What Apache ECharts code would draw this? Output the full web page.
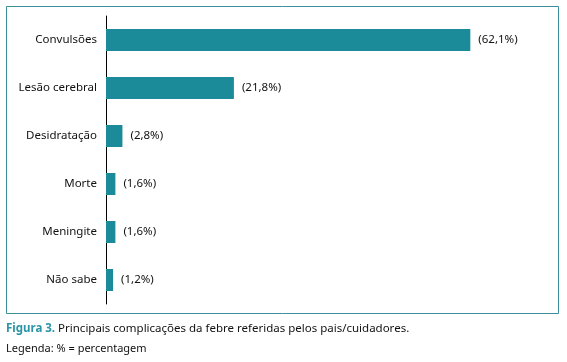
<!DOCTYPE html>
<html>
<head>
<meta charset="utf-8">
<script src="https://cdn.jsdelivr.net/npm/echarts@6/dist/echarts.min.js"></script>
<style>
  html, body { margin: 0; padding: 0; background: #fff; }
  #main { width: 567px; height: 362px; }
</style>
</head>
<body>
<div id="main"></div>
<script>
const categories = ['Convulsões', 'Lesão cerebral', 'Desidratação', 'Morte', 'Meningite', 'Não sabe'];
const values = [62.1, 21.8, 2.8, 1.6, 1.6, 1.2];

const teal = '#1b8b99';
const font = '"Noto Sans", sans-serif';

const chart = echarts.init(document.getElementById('main'));

const option = {
  animation: false,
  grid: { left: 106, top: 16, width: 440, height: 288 },
  xAxis: {
    type: 'value',
    min: 0,
    max: 75,
    show: false
  },
  yAxis: {
    type: 'category',
    data: categories,
    inverse: true,
    axisLine: { lineStyle: { color: '#000', width: 1 } },
    axisTick: { show: false },
    axisLabel: { color: '#111', fontSize: 11.5, fontFamily: font, margin: 9 }
  },
  series: [{
    type: 'bar',
    data: values,
    barWidth: 22,
    itemStyle: { color: teal },
    label: {
      show: true,
      position: 'right',
      distance: 8,
      color: '#111',
      fontSize: 11.5,
      fontFamily: font,
      formatter: p => '(' + String(p.value).replace('.', ',') + '%)'
    }
  }],
  graphic: [
    {
      type: 'rect',
      shape: { x: 6.5, y: 6.5, width: 552, height: 307 },
      style: { fill: 'none', stroke: '#3a8f9b', lineWidth: 1 },
      silent: true
    },
    {
      type: 'text',
      left: 6,
      top: 323,
      style: {
        text: '{a|Figura 3.} Principais complicações da febre referidas pelos pais/cuidadores.',
        rich: {
          a: { fill: '#2a95a5', fontSize: 11.5, fontFamily: font, fontWeight: 'bold' }
        },
        fill: '#111',
        fontSize: 11.5,
        fontFamily: font
      }
    },
    {
      type: 'text',
      left: 6,
      top: 343,
      style: {
        text: 'Legenda: % = percentagem',
        fill: '#111',
        fontSize: 11,
        fontFamily: font
      }
    }
  ]
};

chart.setOption(option);
</script>
</body>
</html>
